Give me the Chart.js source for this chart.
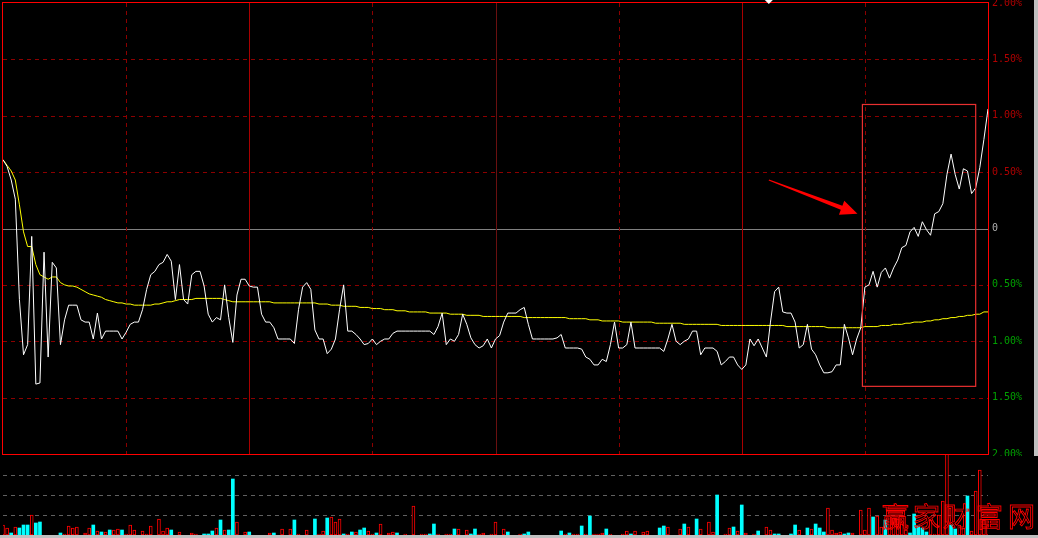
<!DOCTYPE html>
<html><head><meta charset="utf-8">
<script src="https://cdn.jsdelivr.net/npm/chart.js@4.4.1/dist/chart.umd.min.js"></script>
<style>
html,body{margin:0;padding:0;background:#000;width:1038px;height:538px;overflow:hidden}
#pc{position:absolute;left:0;top:0}
#vc{position:absolute;left:0;top:455px}
#sr{position:absolute;left:1034px;top:0;width:4px;height:456px;background:#c0c0c0}
#sb{position:absolute;left:0;top:535px;width:1038px;height:3px;background:#c0c0c0}
</style></head><body>
<canvas id="pc" width="1038" height="456"></canvas>
<canvas id="vc" width="1038" height="83"></canvas>
<div id="sr"></div><div id="sb"></div>
<script>
// ---- DATA ----
// minute labels 09:30..11:30, 13:01..15:00 (241 points)
const minuteLabels = [];
for (let i = 0; i < 241; i++) {
  const m = i <= 120 ? 570 + i : 780 + (i - 120);
  minuteLabels.push(String(Math.floor(m / 60)).padStart(2, '0') + ':' + String(m % 60).padStart(2, '0'));
}
// price change (%) per minute
const pricePct = [
 0.61, 0.55, 0.43, 0.26,-0.63,-1.12,-1.03,-0.07,-1.38,-1.37,
-0.21,-1.14,-0.30,-0.35,-1.03,-0.81,-0.68,-0.68,-0.68,-0.81,
-0.83,-0.83,-0.98,-0.75,-0.98,-0.91,-0.91,-0.91,-0.91,-0.98,
-0.92,-0.85,-0.83,-0.83,-0.72,-0.54,-0.41,-0.38,-0.32,-0.30,
-0.23,-0.29,-0.63,-0.32,-0.63,-0.67,-0.41,-0.38,-0.38,-0.51,
-0.76,-0.83,-0.79,-0.81,-0.50,-0.79,-1.01,-0.59,-0.45,-0.45,
-0.51,-0.52,-0.52,-0.76,-0.83,-0.83,-0.88,-0.98,-0.98,-0.98,
-0.98,-1.02,-0.72,-0.52,-0.48,-0.54,-0.90,-0.98,-0.98,-1.11,
-1.07,-0.98,-0.72,-0.50,-0.91,-0.91,-0.94,-0.98,-1.03,-1.02,
-0.98,-1.03,-1.00,-0.98,-0.98,-0.93,-0.91,-0.91,-0.91,-0.91,
-0.91,-0.91,-0.91,-0.91,-0.91,-0.94,-0.87,-0.75,-1.03,-0.98,
-1.00,-0.94,-0.76,-0.85,-0.97,-1.03,-1.06,-1.04,-0.98,-1.06,
-0.98,-0.95,-0.83,-0.75,-0.75,-0.75,-0.72,-0.70,-0.85,-0.98,
-0.98,-0.98,-0.98,-0.98,-0.98,-0.97,-0.94,-1.06,-1.06,-1.06,
-1.06,-1.07,-1.14,-1.16,-1.21,-1.21,-1.16,-1.18,-1.03,-0.83,
-1.06,-1.06,-1.03,-0.83,-1.06,-1.06,-1.06,-1.06,-1.06,-1.06,
-1.06,-1.09,-0.98,-0.85,-1.00,-1.03,-1.00,-0.98,-0.91,-0.91,
-1.12,-1.06,-1.06,-1.06,-1.09,-1.21,-1.18,-1.14,-1.14,-1.21,
-1.25,-1.21,-0.98,-1.04,-0.98,-1.06,-1.14,-0.83,-0.56,-0.52,
-0.74,-0.75,-0.75,-0.83,-1.06,-1.03,-0.85,-1.07,-1.12,-1.21,
-1.28,-1.28,-1.27,-1.21,-1.21,-0.85,-0.97,-1.12,-0.98,-0.88,
-0.52,-0.50,-0.38,-0.52,-0.39,-0.35,-0.44,-0.35,-0.28,-0.17,
-0.15,-0.03, 0.01,-0.07, 0.06,-0.01,-0.06, 0.13, 0.15, 0.22,
 0.48, 0.66, 0.48, 0.35, 0.53, 0.51, 0.31, 0.36, 0.54, 0.79, 1.06
];
// average price line (%) per minute
const avgPct = [
 0.61, 0.56, 0.51, 0.43, 0.21,-0.03,-0.16,-0.16,-0.32,-0.41,
-0.43,-0.45,-0.43,-0.43,-0.48,-0.50,-0.51,-0.51,-0.52,-0.54,
-0.56,-0.58,-0.59,-0.60,-0.61,-0.63,-0.64,-0.65,-0.66,-0.66,
-0.67,-0.67,-0.68,-0.68,-0.68,-0.68,-0.68,-0.67,-0.67,-0.66,
-0.65,-0.65,-0.64,-0.63,-0.63,-0.63,-0.63,-0.62,-0.62,-0.62,
-0.62,-0.62,-0.62,-0.62,-0.63,-0.64,-0.65,-0.65,-0.65,-0.65,
-0.65,-0.65,-0.65,-0.65,-0.65,-0.65,-0.66,-0.66,-0.66,-0.66,
-0.66,-0.66,-0.66,-0.66,-0.66,-0.66,-0.66,-0.67,-0.67,-0.67,
-0.68,-0.68,-0.68,-0.69,-0.69,-0.69,-0.69,-0.70,-0.70,-0.70,
-0.71,-0.71,-0.71,-0.72,-0.72,-0.72,-0.73,-0.73,-0.73,-0.74,
-0.74,-0.74,-0.74,-0.74,-0.75,-0.75,-0.75,-0.75,-0.75,-0.76,
-0.76,-0.76,-0.76,-0.77,-0.77,-0.77,-0.77,-0.78,-0.78,-0.78,
-0.78,-0.78,-0.78,-0.78,-0.78,-0.78,-0.78,-0.79,-0.79,-0.79,
-0.79,-0.79,-0.79,-0.79,-0.79,-0.79,-0.79,-0.79,-0.80,-0.80,
-0.80,-0.80,-0.80,-0.81,-0.81,-0.81,-0.82,-0.82,-0.82,-0.82,
-0.82,-0.83,-0.83,-0.83,-0.83,-0.83,-0.83,-0.83,-0.83,-0.84,
-0.84,-0.84,-0.84,-0.84,-0.84,-0.84,-0.85,-0.85,-0.85,-0.85,
-0.85,-0.85,-0.85,-0.85,-0.85,-0.86,-0.86,-0.86,-0.86,-0.86,
-0.86,-0.86,-0.86,-0.86,-0.86,-0.86,-0.86,-0.86,-0.86,-0.86,
-0.86,-0.87,-0.87,-0.87,-0.87,-0.87,-0.87,-0.87,-0.87,-0.87,
-0.87,-0.88,-0.88,-0.88,-0.88,-0.88,-0.88,-0.88,-0.88,-0.88,
-0.87,-0.87,-0.87,-0.87,-0.86,-0.86,-0.86,-0.85,-0.85,-0.85,
-0.84,-0.84,-0.83,-0.83,-0.83,-0.82,-0.82,-0.81,-0.81,-0.80,
-0.80,-0.79,-0.79,-0.78,-0.78,-0.77,-0.77,-0.76,-0.76,-0.74,-0.74
];
// volume per minute (relative units)
const volume = [
 10, 7, 2, 8, 7,10,10,20,12,13,
  0, 0, 0, 0, 2, 1, 9, 7, 8, 0,
  2, 7,10, 4, 3, 3, 5, 5, 6, 5,
  1,10, 5, 0, 4, 1, 9, 0,16, 4,
  7, 5, 0, 3, 0, 0, 2, 1, 0, 1,
  1, 4, 7,15, 5, 5,56,13, 0, 3,
  3, 0, 0, 0, 0, 2, 2, 0, 6, 0,
  6,15, 1, 0, 5, 0,16, 1, 4,17,
 18,13,16, 1, 1, 3, 3, 5, 7, 4,
  1, 2,11, 0, 2, 3, 2, 0, 1, 0,
 29, 0, 1, 1, 1,11, 1, 0, 1, 1,
  6, 6, 0, 5, 1, 6, 1, 2, 0, 1,
 13, 0, 6, 3, 0, 0, 1, 1, 3, 0,
  0, 0, 0, 0, 0, 0, 4, 1, 2, 1,
  1, 9, 1,19, 1, 1, 2, 6, 1, 0,
  0, 1, 4, 1, 4, 0, 3, 4, 0, 0,
  7, 9, 8, 0, 0, 6,11, 8, 0,16,
  6, 0,13, 3,40, 0, 1, 7, 8, 4,
 30, 2, 0, 1, 4, 0, 8, 5, 1, 1,
  0, 0, 1,10, 5, 0, 7, 6,11, 7,
  3,27, 5, 2, 3, 1, 2, 2, 0,25,
  5,27,18,19, 8,15, 7,17,16,11,
  5, 2,21, 9, 7, 3,15, 1,20,34,
100,10, 6,10, 7,39, 4,44,65,15,10
];
// 1 = up (red hollow), -1 = down (cyan), 0 = none
const volumeDir = [
 1, 1,-1, 1,-1,-1,-1, 1,-1,-1,
 0, 0, 0, 0,-1, 1, 1, 1, 1, 0,
 1, 1,-1, 1,-1, 1,-1, 1, 1,-1,
 1, 1, 1, 0, 1, 1, 1, 0, 1, 1,
 1,-1, 0, 1, 0, 0, 1, 1, 0,-1,
-1,-1, 1,-1, 1,-1,-1, 1, 0, 1,
-1, 0, 0, 0, 0, 1,-1, 0, 1, 0,
 1,-1, 1, 0, 1, 0,-1, 1, 1,-1,
 1, 1, 1,-1, 1,-1, 1,-1,-1, 1,
 1,-1, 1, 0, 1, 1,-1, 0, 1, 0,
 1, 0, 1, 1,-1,-1, 1, 0, 1, 1,
-1, 1, 0, 1,-1,-1, 1, 1, 0, 1,
 1, 0, 1,-1, 0, 0, 1,-1,-1, 0,
 0, 0, 0, 0, 0, 0,-1, 1,-1, 1,
 1,-1, 1,-1, 1, 1, 1,-1, 1, 0,
 0, 1, 1,-1, 1, 0, 1, 1, 0, 0,
-1,-1, 1, 0, 0, 1,-1, 1, 0,-1,
 1, 0, 1, 1,-1, 0, 1, 1,-1, 1,
-1, 1, 0, 1,-1, 0, 1, 1,-1,-1,
 0, 0,-1,-1, 1, 0,-1, 1,-1,-1,
-1, 1, 1, 1, 1,-1,-1, 1, 0, 1,
 1, 1,-1, 1, 1,-1, 1, 1, 1, 1,
 1,-1,-1,-1,-1,-1, 1, 1, 1, 1,
 1,-1,-1, 1, 1,-1, 1, 1, 1, 1, 1
];
const yTickValues = [-2, -1.5, -1, -0.5, 0, 0.5, 1, 1.5, 2];
const gridMinutes = [30, 60, 90, 120, 150, 180, 210];
const solidGridMinutes = [60, 120, 180];
const volumeGrid = [20, 40, 60];
const volumeMax = 80;
// annotations in data units (minute index, percent)
const highlightBox = { from: 209.4, to: 237.0, top: 1.10, bottom: -1.40 };
const arrowNote = { fromMinute: 186.6, fromPct: 0.43, toMinute: 208.2, toPct: 0.13 };
const cursorMinute = 186.6;
const watermark = '赢家财富网';

// ---- CHARTS ----
const upVol = volume.map((v, i) => volumeDir[i] > 0 ? v : null);
const downVol = volume.map((v, i) => volumeDir[i] < 0 ? v : null);

const priceDeco = {
  id: 'priceDeco',
  beforeDatasetsDraw(chart) {
    const { ctx, chartArea: a, scales: { x, y } } = chart;
    ctx.save();
    ctx.lineWidth = 1;
    for (const v of yTickValues) {
      if (Math.abs(v) === 2) continue;
      const py = Math.round(y.getPixelForValue(v)) + 0.5;
      ctx.beginPath();
      if (v === 0) { ctx.setLineDash([]); ctx.strokeStyle = '#808080'; }
      else { ctx.setLineDash([4, 4]); ctx.strokeStyle = '#8c0000'; }
      ctx.moveTo(a.left, py); ctx.lineTo(a.right, py); ctx.stroke();
    }
    for (const m of gridMinutes) {
      const px = Math.round(x.getPixelForValue(m)) + 0.5;
      ctx.beginPath();
      if (solidGridMinutes.includes(m)) { ctx.setLineDash([]); ctx.strokeStyle = m === 120 ? '#6a1010' : '#a80000'; }
      else { ctx.setLineDash([4, 4]); ctx.strokeStyle = '#8c0000'; }
      ctx.moveTo(px, a.top); ctx.lineTo(px, a.bottom); ctx.stroke();
    }
    ctx.restore();
  },
  afterDatasetsDraw(chart) {
    const { ctx, chartArea: a, scales: { x, y } } = chart;
    ctx.save();
    ctx.setLineDash([]);
    // panel border
    ctx.strokeStyle = '#ff0000'; ctx.lineWidth = 1;
    ctx.strokeRect(a.left - 0.5, a.top - 0.5, a.right - a.left + 1, a.bottom - a.top + 1);
    // highlight box
    const bx0 = x.getPixelForValue(highlightBox.from), bx1 = x.getPixelForValue(highlightBox.to);
    const by0 = y.getPixelForValue(highlightBox.top), by1 = y.getPixelForValue(highlightBox.bottom);
    ctx.strokeStyle = '#e83030'; ctx.lineWidth = 1.2;
    ctx.strokeRect(bx0, by0, bx1 - bx0, by1 - by0);
    // arrow
    const T = { x: x.getPixelForValue(arrowNote.fromMinute), y: y.getPixelForValue(arrowNote.fromPct) };
    const P = { x: x.getPixelForValue(arrowNote.toMinute), y: y.getPixelForValue(arrowNote.toPct) };
    const dx = P.x - T.x, dy = P.y - T.y, L = Math.hypot(dx, dy);
    const ux = dx / L, uy = dy / L, nx = -uy, ny = ux;
    const hl = 17, hw = 7.5;
    const Bx = P.x - ux * hl, By = P.y - uy * hl;
    ctx.beginPath();
    ctx.moveTo(T.x + nx * 0.6, T.y + ny * 0.6);
    ctx.lineTo(Bx + nx * 2.2, By + ny * 2.2);
    ctx.lineTo(Bx + nx * hw, By + ny * hw);
    ctx.lineTo(P.x, P.y);
    ctx.lineTo(Bx - nx * hw, By - ny * hw);
    ctx.lineTo(Bx - nx * 2.2, By - ny * 2.2);
    ctx.lineTo(T.x - nx * 0.6, T.y - ny * 0.6);
    ctx.closePath();
    ctx.fillStyle = '#ff0000'; ctx.fill();
    // cursor marker
    const cx = x.getPixelForValue(cursorMinute);
    ctx.beginPath();
    ctx.moveTo(cx - 4, 0); ctx.lineTo(cx + 4, 0); ctx.lineTo(cx, 4); ctx.closePath();
    ctx.fillStyle = '#ffffff'; ctx.fill();
    ctx.restore();
  }
};

new Chart(document.getElementById('pc'), {
  type: 'line',
  data: {
    labels: minuteLabels,
    datasets: [
      { label: '价格', data: pricePct, borderColor: '#ffffff', borderWidth: 1, pointRadius: 0, tension: 0 },
      { label: '均价', data: avgPct, borderColor: '#ffff00', borderWidth: 1, pointRadius: 0, tension: 0 }
    ]
  },
  options: {
    responsive: false, animation: false, devicePixelRatio: 1,
    layout: { padding: { left: 3, top: 3, right: 0, bottom: 2 } },
    plugins: { legend: { display: false }, tooltip: { enabled: false } },
    scales: {
      x: { display: false, offset: false },
      y: {
        position: 'right', min: -2, max: 2,
        grid: { display: false, drawTicks: false },
        border: { display: false },
        afterBuildTicks: s => { s.ticks = yTickValues.map(v => ({ value: v })); },
        afterFit: s => { s.width = 50; s.paddingTop = 0; s.paddingBottom = 0; },
        ticks: {
          autoSkip: false, padding: 4,
          font: { family: 'DejaVu Sans Mono', size: 10 },
          color: c => c.tick.value > 0 ? '#b00000' : (c.tick.value < 0 ? '#00a000' : '#b0b0b0'),
          callback: v => v === 0 ? '0' : Math.abs(v).toFixed(2) + '%'
        }
      }
    }
  },
  plugins: [priceDeco]
});

const volDeco = {
  id: 'volDeco',
  beforeDatasetsDraw(chart) {
    const { ctx, chartArea: a, scales: { y } } = chart;
    ctx.save();
    ctx.strokeStyle = '#606060'; ctx.lineWidth = 1; ctx.setLineDash([4, 4]);
    for (const v of volumeGrid) {
      const py = Math.round(y.getPixelForValue(v)) + 0.5;
      ctx.beginPath(); ctx.moveTo(a.left, py); ctx.lineTo(a.right, py); ctx.stroke();
    }
    ctx.restore();
  },
  afterDraw(chart) {
    const { ctx } = chart;
    ctx.save();
    ctx.font = '27px "Noto Sans CJK SC"';
    ctx.strokeStyle = '#ff0000'; ctx.lineWidth = 0.9;
    ctx.textBaseline = 'alphabetic';
    const lefts = [882, 913, 943, 976, 1008];
    [...watermark].forEach((ch, k) => ctx.strokeText(ch, lefts[k], 72));
    ctx.restore();
  }
};

new Chart(document.getElementById('vc'), {
  type: 'bar',
  data: {
    labels: minuteLabels,
    datasets: [
      { label: '成交量(涨)', data: upVol, backgroundColor: '#000000', borderColor: '#ff0000', borderWidth: 1, borderSkipped: false, barThickness: 3, grouped: false },
      { label: '成交量(跌)', data: downVol, backgroundColor: '#00ffff', borderWidth: 0, barThickness: 3, grouped: false }
    ]
  },
  options: {
    responsive: false, animation: false, devicePixelRatio: 1,
    layout: { padding: { left: 3, top: 0, right: 50, bottom: 3 } },
    plugins: { legend: { display: false }, tooltip: { enabled: false } },
    scales: {
      x: { display: false, offset: false },
      y: { display: false, min: 0, max: volumeMax }
    }
  },
  plugins: [volDeco]
});
</script>
</body></html>
